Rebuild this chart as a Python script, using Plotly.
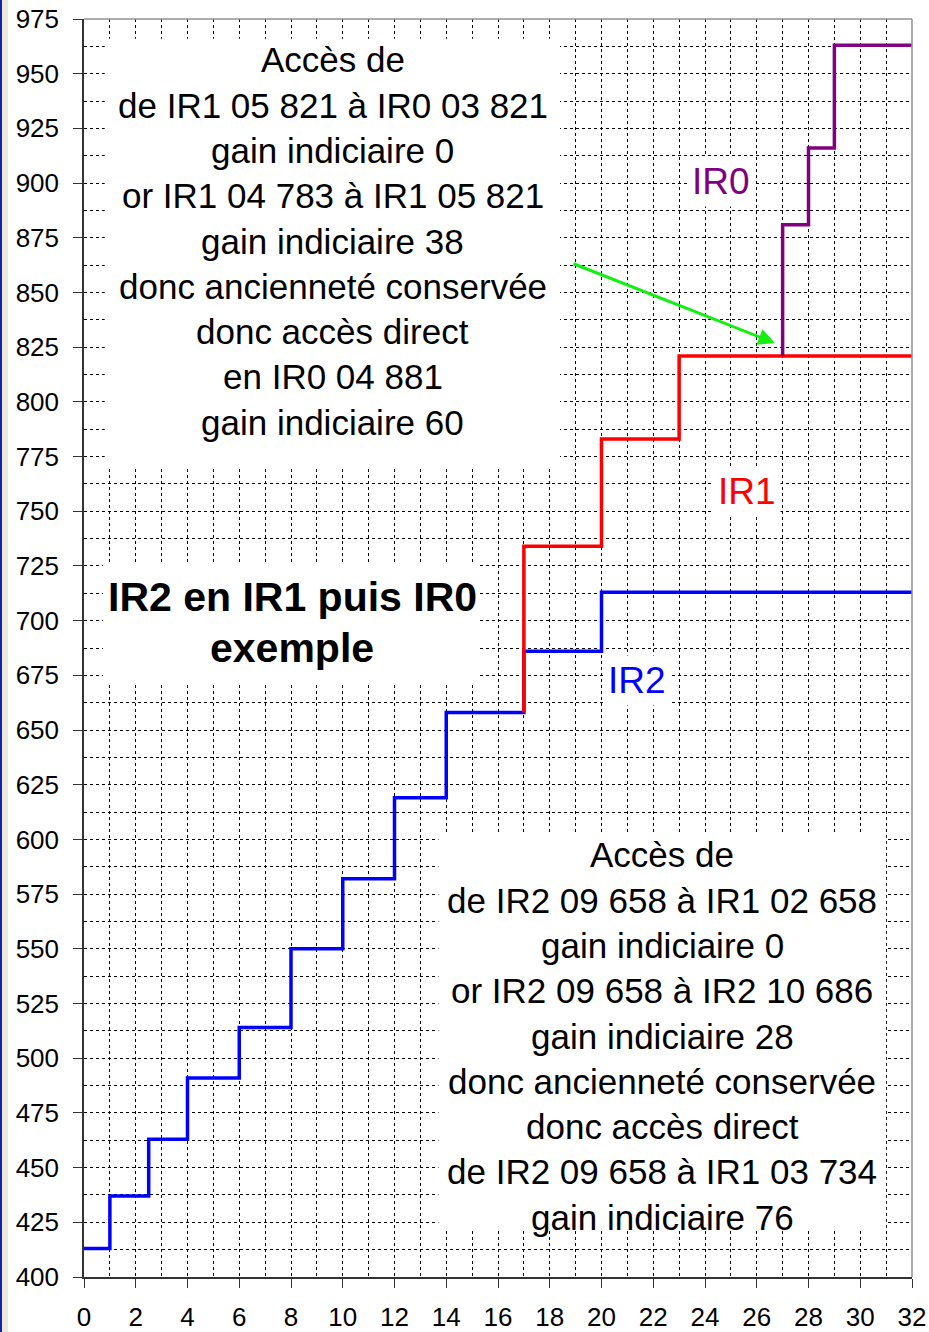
import plotly.graph_objects as go

# step series (x where the value changes, value reached)
ir2_x = [0, 1, 2.5, 4, 6, 8, 10, 12, 14, 17, 20, 32]
ir2_y = [413, 437, 463, 491, 514, 550, 582, 619, 658, 686, 713, 713]

ir1_x = [17, 17, 20, 23, 32]
ir1_y = [658, 734, 783, 821, 821]

ir0_x = [27, 27, 28, 29, 32]
ir0_y = [821, 881, 916, 963, 963]

x_ticks = list(range(0, 33, 2))
y_ticks = list(range(400, 976, 25))

text_top = [
    "Accès de",
    "de IR1 05 821 à IR0 03 821",
    "gain indiciaire 0",
    "or IR1 04 783 à IR1 05 821",
    "gain indiciaire 38",
    "donc ancienneté conservée",
    "donc accès direct",
    "en IR0 04 881",
    "gain indiciaire 60",
]
text_bottom = [
    "Accès de",
    "de IR2 09 658 à IR1 02 658",
    "gain indiciaire 0",
    "or IR2 09 658 à IR2 10 686",
    "gain indiciaire 28",
    "donc ancienneté conservée",
    "donc accès direct",
    "de IR2 09 658 à IR1 03 734",
    "gain indiciaire 76",
]
title_lines = ["IR2 en IR1 puis IR0", "exemple"]

FONT = "Arial, Liberation Sans, sans-serif"
GRID = dict(gridcolor="black", gridwidth=1, griddash="3px,3px")

fig = go.Figure()
fig.add_trace(go.Scatter(x=ir2_x, y=ir2_y, mode="lines", line_shape="hv",
                         line=dict(color="#0000ff", width=3.5), name="IR2"))
fig.add_trace(go.Scatter(x=ir1_x, y=ir1_y, mode="lines", line_shape="hv",
                         line=dict(color="#ff0000", width=3.5), name="IR1"))
fig.add_trace(go.Scatter(x=ir0_x, y=ir0_y, mode="lines", line_shape="hv",
                         line=dict(color="#800080", width=3.5), name="IR0"))

# white panels hiding the grid behind the texts
for x0, x1, y0, y1 in [(0.8, 18.4, 770, 966), (0.73, 15.2, 670.6, 726.3),
                       (13.7, 31.0, 421.6, 603.4)]:
    fig.add_shape(type="rect", xref="x", yref="y", x0=x0, x1=x1, y0=y0, y1=y1,
                  fillcolor="white", line_width=0, layer="between")

# frame top / right
fig.add_shape(type="line", xref="paper", yref="paper", x0=0, x1=1, y0=1, y1=1,
              line=dict(color="#909090", width=1.5))
fig.add_shape(type="line", xref="paper", yref="paper", x0=1, x1=1, y0=0, y1=1,
              line=dict(color="#909090", width=1.5))
# window border on the left edge
fig.add_shape(type="rect", xref="paper", yref="paper", x0=-84 / 828, x1=-76 / 828,
              y0=-55 / 1258, y1=1 + 19 / 1258, fillcolor="#ece9d8", line_width=0)
fig.add_shape(type="rect", xref="paper", yref="paper", x0=-84 / 828, x1=-82 / 828,
              y0=-55 / 1258, y1=1 + 19 / 1258, fillcolor="#1020b0", line_width=0)

for i, t in enumerate(text_top):
    fig.add_annotation(x=9.62, y=956.3 - 20.7 * i, text=t, showarrow=False,
                       font=dict(family=FONT, size=35, color="black"))
for i, t in enumerate(text_bottom):
    fig.add_annotation(x=22.34, y=592.9 - 20.7 * i, text=t, showarrow=False,
                       font=dict(family=FONT, size=35, color="black"))
for i, t in enumerate(title_lines):
    fig.add_annotation(x=8.05, y=710.8 - 23.3 * i, text="<b>%s</b>" % t, showarrow=False,
                       font=dict(family=FONT, size=41, color="black"))

for label, x, y, c in [("IR0", 24.62, 900.9, "#800080"), ("IR1", 25.62, 759.2, "#ff0000"),
                       ("IR2", 21.37, 672.8, "#0000ff")]:
    fig.add_annotation(x=x, y=y, text=label, showarrow=False, bgcolor="white", borderpad=4,
                       font=dict(family=FONT, size=37, color=c))

fig.add_annotation(x=26.7, y=826.9, ax=18.86, ay=863.4, xref="x", yref="y",
                   axref="x", ayref="y", text="", showarrow=True, arrowhead=2,
                   arrowsize=1.1, arrowwidth=3, arrowcolor="#11f011")

fig.update_xaxes(range=[0, 32], tickvals=x_ticks, ticks="outside", ticklen=9,
                 tickcolor="#333", showline=True, linecolor="#333", linewidth=1.5,
                 showgrid=True, **GRID, zeroline=False, ticklabelstandoff=7,
                 ticklabeloverflow="allow",
                 tickfont=dict(family=FONT, size=26, color="black"),
                 minor=dict(dtick=1, showgrid=True, ticks="", **GRID))
fig.update_yaxes(range=[400, 975], tickvals=y_ticks, ticks="outside", ticklen=9,
                 tickcolor="#333", showline=True, linecolor="#333", linewidth=1.5,
                 showgrid=True, **GRID, zeroline=False, ticklabelstandoff=9,
                 ticklabeloverflow="allow",
                 tickfont=dict(family=FONT, size=26, color="black"),
                 minor=dict(dtick=12.5, showgrid=True, ticks="", **GRID))

fig.update_layout(width=929, height=1332, showlegend=False,
                  margin=dict(l=84, r=17, t=19, b=55, autoexpand=False),
                  plot_bgcolor="white", paper_bgcolor="white")

# drop the default 8px page margin so the figure fills the window
fig.write_html("out.html", config={"displayModeBar": False},
               post_script="document.body.style.margin='0';document.body.style.overflow='hidden';")
